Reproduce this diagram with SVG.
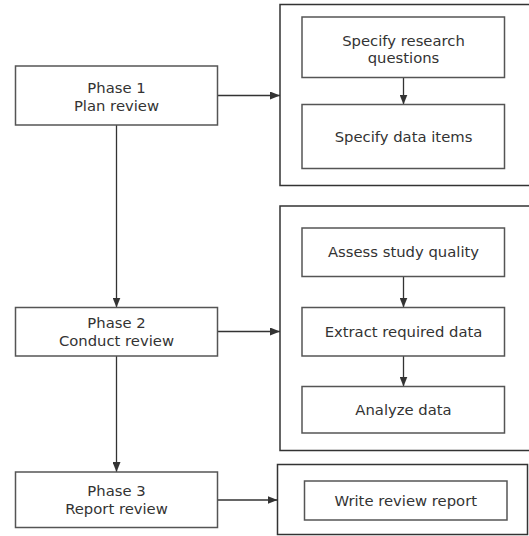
<svg xmlns="http://www.w3.org/2000/svg" width="529" height="536" viewBox="0 0 529 536">
<defs>
<marker id="ah" markerWidth="10" markerHeight="8" refX="10" refY="4" orient="auto" markerUnits="userSpaceOnUse">
<path d="M0,0 L10,4 L0,8 Z" fill="#333"/>
</marker>
<style>
.box{fill:#fff;stroke:#555;stroke-width:1.5}
.grp{fill:none;stroke:#333;stroke-width:1.5}
.t{font-family:"DejaVu Sans",Verdana,sans-serif;font-size:14.8px;fill:#333;text-anchor:middle}
.c{fill:none;stroke:#333;stroke-width:1.3;marker-end:url(#ah)}
</style>
</defs>
<rect width="529" height="536" fill="#fff"/>
<g id="group1"><rect class="grp" x="280" y="4.5" width="260" height="181"/></g>
<g id="group2"><rect class="grp" x="280" y="206" width="260" height="244.5"/></g>
<g id="group3"><rect class="grp" x="277.5" y="464.5" width="250" height="70"/></g>
<g id="connectors">
<path class="c" d="M217.5,95.5 H280"/>
<path class="c" d="M116.5,125 V307.5"/>
<path class="c" d="M217.5,331.5 H280"/>
<path class="c" d="M116.5,356 V472"/>
<path class="c" d="M215,500 H277.5"/>
<path class="c" d="M403.5,77.5 V104.5"/>
<path class="c" d="M403.5,276.5 V307.5"/>
<path class="c" d="M403.5,356 V386.5"/>
</g>
<g id="phase1"><rect class="box" x="15.5" y="66" width="202" height="59"/>
<text class="t" x="116.5" y="92.5">Phase 1</text><text class="t" x="116.5" y="110.5">Plan review</text></g>
<g id="phase2"><rect class="box" x="15.5" y="307.5" width="202" height="48.5"/>
<text class="t" x="116.5" y="328">Phase 2</text><text class="t" x="116.5" y="346">Conduct review</text></g>
<g id="phase3"><rect class="box" x="15.5" y="472" width="202" height="55.5"/>
<text class="t" x="116.5" y="496">Phase 3</text><text class="t" x="116.5" y="514">Report review</text></g>
<g id="specify-rq"><rect class="box" x="302" y="17" width="202.5" height="60.5"/>
<text class="t" x="403.5" y="45.5">Specify research</text><text class="t" x="403.5" y="63">questions</text></g>
<g id="specify-di"><rect class="box" x="302" y="104.5" width="202.5" height="64"/>
<text class="t" x="403.5" y="141.5">Specify data items</text></g>
<g id="assess"><rect class="box" x="302" y="228" width="202.5" height="48.5"/>
<text class="t" x="403.5" y="257">Assess study quality</text></g>
<g id="extract"><rect class="box" x="302" y="307.5" width="202.5" height="48.5"/>
<text class="t" x="403.5" y="336.5">Extract required data</text></g>
<g id="analyze"><rect class="box" x="302" y="386.5" width="202.5" height="46.5"/>
<text class="t" x="403.5" y="414.5">Analyze data</text></g>
<g id="write"><rect class="box" x="304.5" y="481" width="202.5" height="39"/>
<text class="t" x="405.75" y="505.5">Write review report</text></g>
</svg>
